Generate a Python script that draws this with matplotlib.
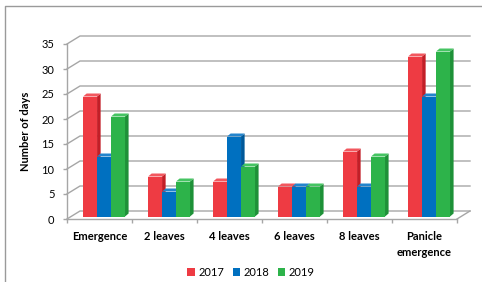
import numpy as np
import matplotlib
matplotlib.use('Agg')
import matplotlib.pyplot as plt
from matplotlib.patches import Polygon, Patch
from matplotlib.lines import Line2D

plt.rcParams.update({
    "font.family": ["Lato", "DejaVu Sans"],
    "font.size": 8,
})

categories = ['Emergence', '2 leaves', '4 leaves', '6 leaves', '8 leaves', 'Panicle\nemergence']
years = ['2017', '2018', '2019']
days_2017 = [24, 8, 7, 6, 13, 32]
days_2018 = [12, 5, 16, 6, 6, 24]
days_2019 = [20, 7, 10, 6, 12, 33]
y_ticks = [0, 5, 10, 15, 20, 25, 30, 35]

front_colors = ['#EE3B43', '#0070C0', '#2DB34A']
side_colors = ['#C31E27', '#00599A', '#1E9138']
top_colors = ['#F2575E', '#2384CC', '#45C462']

GRID = '#a6a6a6'
DX, DY = 0.2, 1.6        # depth of the walls (category units, value units)
BX, BY = 0.07, 0.5       # where the bar front sits inside the depth
DDX, DDY = 0.055, 0.6    # depth of each bar
W = 0.215                # bar width

fig = plt.figure(figsize=(4.82, 2.82), dpi=100)
ax = fig.add_axes([67 / 482, 63 / 282, 390 / 482, 175 / 282])
ax.set_xlim(0, 6)
ax.set_ylim(0, 35)

for s in ['top', 'right']:
    ax.spines[s].set_visible(False)
for s in ['left', 'bottom']:
    ax.spines[s].set_color(GRID)
    ax.spines[s].set_linewidth(1)

ax.set_yticks(y_ticks)
ax.set_yticklabels([str(v) for v in y_ticks])
ax.set_xticks(np.arange(len(categories) + 1))
ax.set_xticklabels([])
ax.set_xticks(np.arange(len(categories)) + 0.5, minor=True)
ax.set_xticklabels(categories, minor=True, fontweight='bold', linespacing=1.45)
ax.tick_params(axis='both', which='major', length=3, color=GRID, width=1)
ax.tick_params(axis='x', which='minor', length=0, pad=9)
ax.tick_params(axis='y', pad=6)
ax.set_ylabel('Number of days', fontweight='bold')
ax.yaxis.set_label_coords(-0.092, 0.5)

# walls: side wall diagonals + back wall grid lines
for v in y_ticks:
    ax.plot([0, DX, 6 + DX], [v, v + DY, v + DY], color=GRID, lw=1,
            clip_on=False, zorder=1)
# floor right edge
ax.plot([6, 6 + DX], [0, DY], color=GRID, lw=1, clip_on=False, zorder=1)

series = [days_2017, days_2018, days_2019]
z = 2
for i in range(len(categories)):
    for j, vals in enumerate(series):
        v = vals[i]
        x0 = i + 0.5 - 1.5 * W + j * W + BX
        x1 = x0 + W
        side = Polygon([(x1, BY), (x1 + DDX, BY + DDY), (x1 + DDX, v + BY + DDY), (x1, v + BY)],
                       closed=True, fc=side_colors[j], ec='none', clip_on=False, zorder=z)
        top = Polygon([(x0, v + BY), (x1, v + BY), (x1 + DDX, v + BY + DDY), (x0 + DDX, v + BY + DDY)],
                      closed=True, fc=top_colors[j], ec='none', clip_on=False, zorder=z)
        ax.add_patch(side)
        ax.add_patch(top)
        ax.bar(x0, v, width=W, bottom=BY, align='edge', color=front_colors[j],
               edgecolor='none', clip_on=False, zorder=z + 0.5)
        z += 1

handles = [Patch(fc=c, ec='none') for c in front_colors]
fig.legend(handles, years, loc='center', bbox_to_anchor=(251 / 482, 1 - 272 / 282),
           ncol=3, frameon=False, handlelength=0.7, handleheight=0.7,
           handletextpad=0.3, columnspacing=0.75, fontsize=8)

# chart border (only top and left visible in the crop)
fig.add_artist(Line2D([5 / 482, 5 / 482, 1], [0, 1 - 6 / 282, 1 - 6 / 282],
                      transform=fig.transFigure, color='#9a9a9a', lw=1))

fig.savefig('out.png', dpi=100, facecolor='white')
